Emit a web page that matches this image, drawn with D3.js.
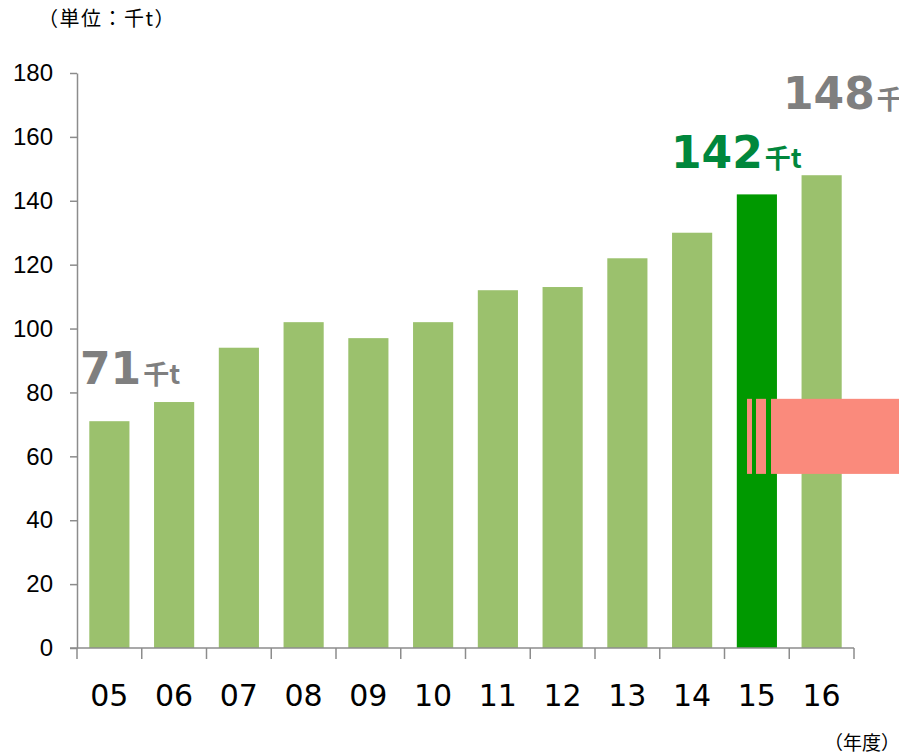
<!DOCTYPE html>
<html><head><meta charset="utf-8">
<script src="https://cdn.jsdelivr.net/npm/d3@7"></script>
<style>body{margin:0;background:#fff;overflow:hidden} svg{display:block}</style>
</head><body><svg id="chart"></svg>
<script>
const years=['05','06','07','08','09','10','11','12','13','14','15','16'];
const values=[71,77,94,102,97,102,112,113,122,130,142,148];
const yTicks=[0,20,40,60,80,100,120,140,160,180];
const highlight='15';
const callouts=[{year:'05',value:71,num:'71',unit:'千t',color:'#7f7f7f'},{year:'15',value:142,num:'142',unit:'千t',color:'#00873c'},{year:'16',value:148,num:'148',unit:'千t',color:'#7f7f7f'}];

const W=899,H=755;
const svg=d3.select('#chart').attr('width',W).attr('height',H);
const x=d3.scaleBand().domain(years).range([77,854]).paddingInner(0.38).paddingOuter(0.19);
const y=d3.scaleLinear().domain([0,180]).range([648,73]);

// bars
svg.selectAll('.bar').data(years).enter().append('rect').attr('class','bar')
  .attr('x',d=>x(d)).attr('width',x.bandwidth())
  .attr('y',(d,i)=>y(values[i])).attr('height',(d,i)=>y(0)-y(values[i]))
  .attr('fill',d=>d===highlight?'#009900':'#9bc16d');

// y axis
const yAxis=svg.append('g').attr('transform','translate(77,0)')
  .call(d3.axisLeft(y).tickValues(yTicks).tickSize(7).tickSizeOuter(0).tickPadding(17));
yAxis.select('.domain').attr('stroke','#8c8c8c').attr('stroke-width',1.5);
yAxis.selectAll('.tick line').attr('stroke','#8c8c8c').attr('stroke-width',1.5);
yAxis.selectAll('.tick text').attr('font-family','Liberation Sans, Arial, sans-serif').attr('font-size',24).attr('fill','#000');

// x axis with ticks at category boundaries
const xa=svg.append('g');
xa.append('line').attr('x1',70).attr('x2',854).attr('y1',y(0)).attr('y2',y(0)).attr('stroke','#8c8c8c').attr('stroke-width',1.5);
const bounds=d3.range(years.length+1).map(i=>77+i*(777/years.length));
xa.selectAll('.xt').data(bounds).enter().append('line').attr('class','xt')
  .attr('x1',d=>d).attr('x2',d=>d).attr('y1',y(0)).attr('y2',y(0)+11)
  .attr('stroke','#8c8c8c').attr('stroke-width',1.5);
xa.selectAll('.xl').data(years).enter().append('text').attr('class','xl')
  .attr('x',d=>x(d)+x.bandwidth()/2).attr('y',706).attr('text-anchor','middle')
  .attr('font-family','DejaVu Sans, Verdana, sans-serif').attr('font-size',30).attr('fill','#000').text(d=>d);

// callouts
callouts.forEach(c=>{
  const t=svg.append('text').attr('font-family','DejaVu Sans, Verdana, sans-serif').attr('font-weight','bold').attr('fill',c.color)
    .attr('x',c.year==='05'?80:c.year==='15'?671:783)
    .attr('y',y(c.value)-(c.year==='05'?37:c.year==='15'?26:66));
  t.append('tspan').attr('font-size',44).text(c.num);
  t.append('tspan').attr('font-size',26).attr('font-family','Noto Sans CJK JP, sans-serif').attr('dx',2).text(c.unit);
});

// overlay box
const bx=svg.append('g');
const boxTop=y(78),boxBot=y(54.5);
bx.append('rect').attr('x',771).attr('y',boxTop).attr('width',W-771).attr('height',boxBot-boxTop).attr('fill','#fa8a7c');
[[747,5],[756,10]].forEach(s=>bx.append('rect').attr('x',s[0]).attr('y',boxTop).attr('width',s[1]).attr('height',boxBot-boxTop).attr('fill','#fa8a7c'));

// unit labels
svg.append('text').attr('x',38).attr('y',26).attr('font-family','Noto Sans CJK JP, sans-serif').attr('font-size',20).attr('letter-spacing',1.5).attr('fill','#000').text('（単位：千t）');
svg.append('text').attr('x',W+1).attr('y',750).attr('text-anchor','end').attr('font-family','Noto Sans CJK JP, sans-serif').attr('font-size',19).attr('fill','#000').text('（年度）');
</script></body></html>
